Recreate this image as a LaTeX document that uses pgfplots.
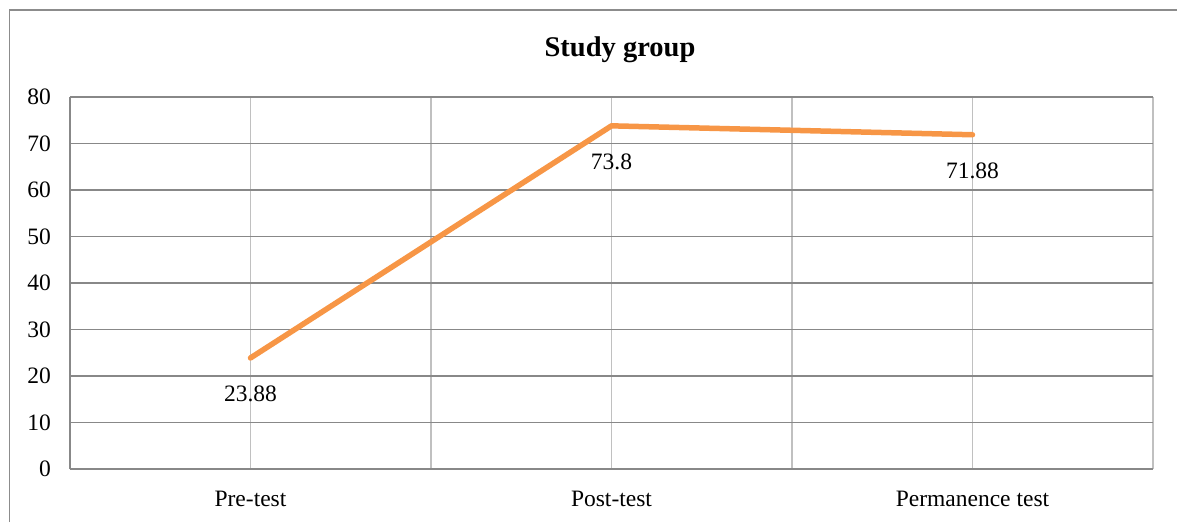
\documentclass[border=0pt]{standalone}
\usepackage{fontspec}
\setmainfont{Liberation Serif}
\usepackage{pgfplots}
\pgfplotsset{compat=1.18}

\definecolor{lineorange}{HTML}{F79646}
\definecolor{hgrid}{HTML}{888888}
\definecolor{vgrid}{HTML}{C0C0C0}
\definecolor{frame}{HTML}{8C8C8C}

\begin{document}
\begin{tikzpicture}[x=1pt,y=1pt]
  \useasboundingbox (0,0) rectangle (1177,522);
  % outer chart border (only left and top are inside the picture)
  \draw[frame, line width=1.5pt] (9.5,0) -- (9.5,512) -- (1177,512);
  \node[font=\fontsize{28.5}{32}\selectfont\bfseries] at (620,472) {Study group};

  \begin{axis}[
    at={(70pt,53pt)}, anchor=south west,
    width=1083pt, height=372pt, scale only axis,
    xmin=0, xmax=3, ymin=0, ymax=80,
    xtick={0.5,1.5,2.5},
    xticklabels={Pre-test, Post-test, Permanence test},
    minor xtick={0,1,2,3},
    ytick={0,10,...,80},
    major tick length=0pt, minor tick length=0pt,
    xmajorgrids, xminorgrids, ymajorgrids,
    x grid style={vgrid, line width=1.6pt},
    minor x grid style={vgrid, line width=1.6pt},
    y grid style={hgrid, line width=1.6pt},
    axis line style={draw=none},
    /pgf/number format/assume math mode=true,
    tick label style={font=\fontsize{23.5}{28}\selectfont},
    yticklabel style={anchor=east, inner sep=0pt, xshift=-19pt},
    xticklabel style={anchor=north, inner sep=0pt, yshift=-22pt},
    clip=false,
  ]
    \draw[hgrid, line width=1.6pt] (axis cs:0,0) -- (axis cs:0,80);
    \addplot[
      color=lineorange, line width=5.5pt, line cap=round, line join=round,
      mark=none,
      point meta=explicit symbolic,
      nodes near coords,
      every node near coord/.append style={
        anchor=north, inner sep=0pt, yshift=-25pt,
        font=\fontsize{23.5}{28}\selectfont, text=black},
    ] coordinates {
      (0.5,23.88) [23.88]
      (1.5,73.8)  [73.8]
      (2.5,71.88) [71.88]
    };
  \end{axis}
\end{tikzpicture}
\end{document}
